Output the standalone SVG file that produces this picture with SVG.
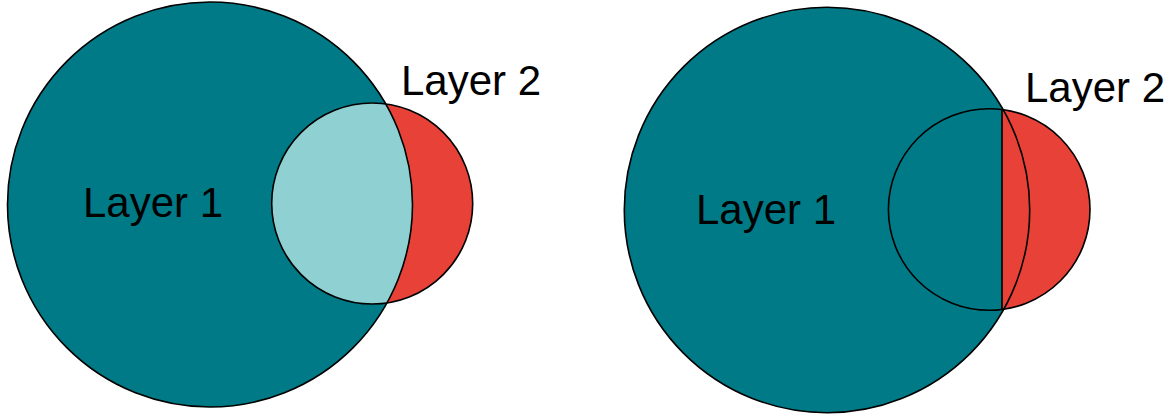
<svg xmlns="http://www.w3.org/2000/svg" width="1173" height="414" viewBox="0 0 1173 414">
  <style>
    .teal { fill: #007A87; }
    .light { fill: #8FD1D2; }
    .red { fill: #E84137; }
    .edge { fill: none; stroke: #000; stroke-width: 1.6; }
    .label { font-family: "Liberation Sans", Arial, sans-serif; font-size: 42px; fill: #000; }
  </style>
  <defs>
    <clipPath id="clipBigLeft">
      <circle cx="210" cy="204.5" r="202.5"/>
    </clipPath>
    <clipPath id="clipRightCut">
      <rect x="1002" y="0" width="171" height="414"/>
    </clipPath>
  </defs>

  <rect width="1173" height="414" fill="#fff"/>

  <!-- Left panel: overlapping layers with a lighter shared region -->
  <g id="left-panel">
    <g id="left-layer1">
      <circle class="teal" cx="210" cy="204.5" r="202.5"/>
    </g>
    <g id="left-layer2">
      <circle class="red" cx="372.2" cy="203.5" r="100.5"/>
      <circle class="light" cx="372.2" cy="203.5" r="100.5" clip-path="url(#clipBigLeft)"/>
    </g>
    <circle class="edge" cx="210" cy="204.5" r="202.5"/>
    <circle class="edge" cx="372.2" cy="203.5" r="100.5"/>
    <text class="label" x="83" y="217">Layer 1</text>
    <text class="label" x="401" y="95">Layer 2</text>
  </g>

  <!-- Right panel: layer 2 split by a vertical cut -->
  <g id="right-panel">
    <g id="right-layer1">
      <circle class="teal" cx="827" cy="210" r="202.7"/>
    </g>
    <g id="right-layer2">
      <circle class="red" cx="989.2" cy="209.5" r="100.8" clip-path="url(#clipRightCut)"/>
    </g>
    <g id="connectors">
      <line class="edge" x1="1002" y1="109.5" x2="1002" y2="309.5"/>
    </g>
    <circle class="edge" cx="827" cy="210" r="202.7"/>
    <circle class="edge" cx="989.2" cy="209.5" r="100.8"/>
    <text class="label" x="696" y="224">Layer 1</text>
    <text class="label" x="1025" y="102">Layer 2</text>
  </g>
</svg>
